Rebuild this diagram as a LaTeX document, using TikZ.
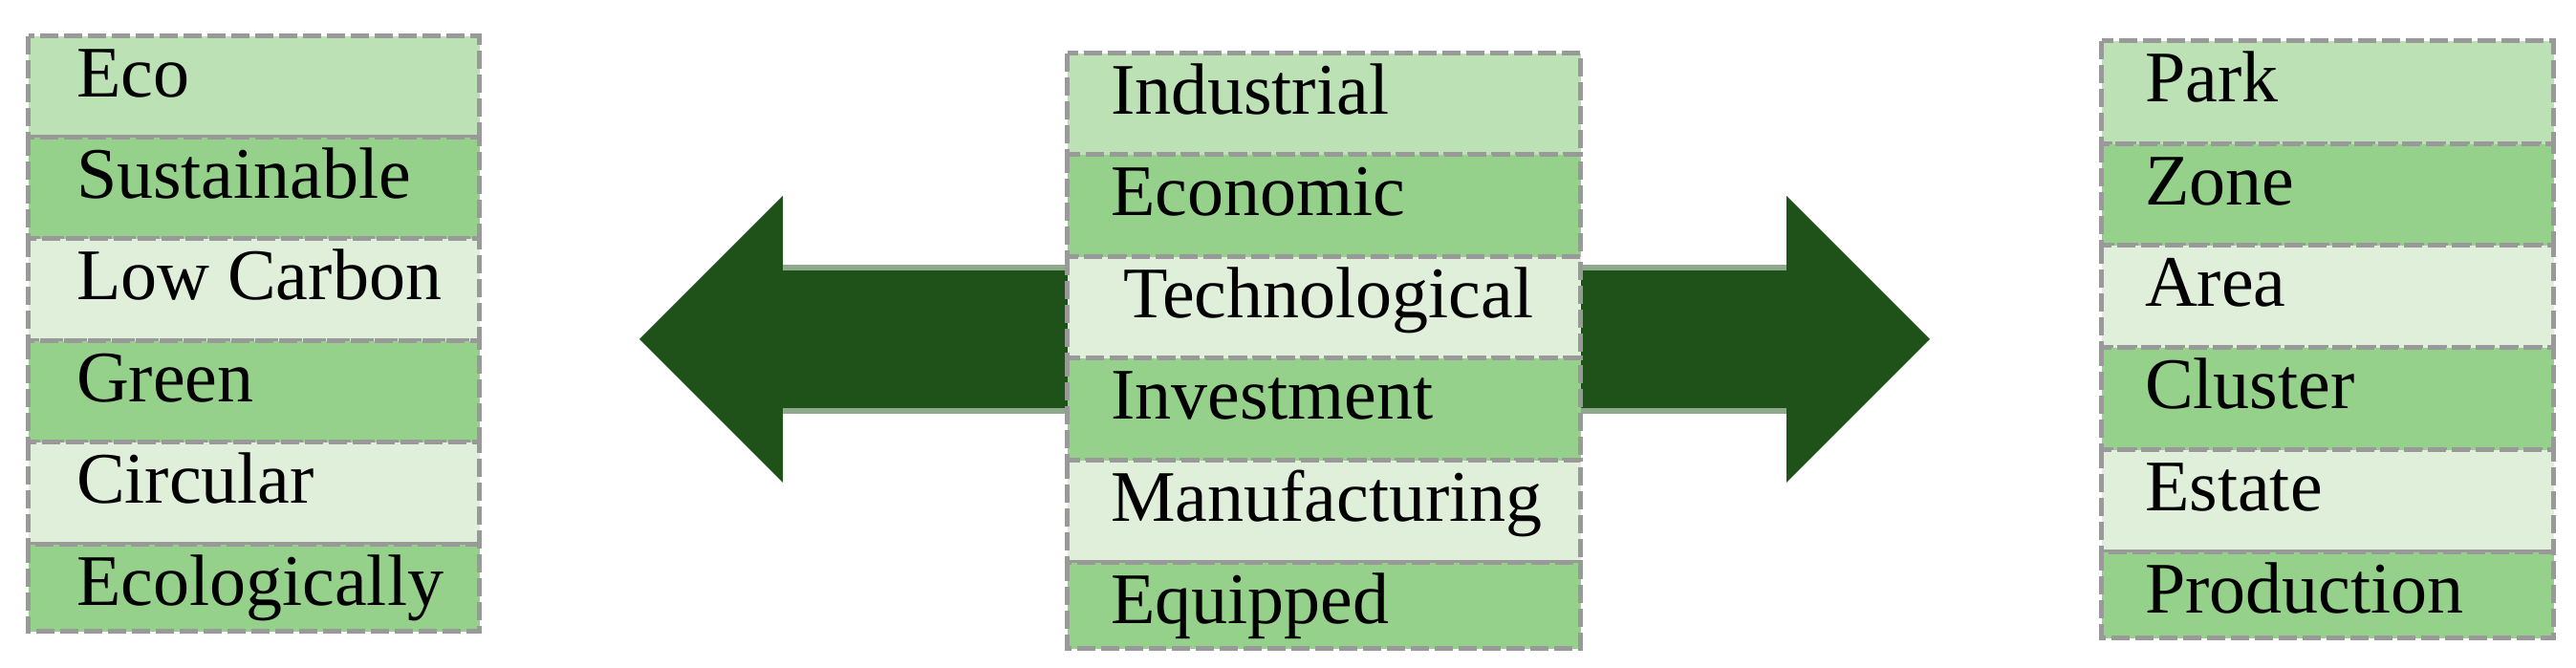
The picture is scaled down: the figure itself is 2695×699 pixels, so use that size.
\documentclass[tikz,border=0pt]{standalone}
\usepackage{fontspec}
\setmainfont{Liberation Serif}
\definecolor{rowA}{RGB}{187,225,180}
\definecolor{rowB}{RGB}{149,209,138}
\definecolor{rowC}{RGB}{223,239,218}
\definecolor{dashgray}{RGB}{153,153,153}
\definecolor{arrowgreen}{RGB}{31,82,25}
\definecolor{shaftedge}{RGB}{143,170,138}
\newcommand{\mycell}[8]{%
  \path[cellbox, fill=#6] (#2,#4) rectangle (#3,#5);
  \node[lbl] (#1) at (#8,{#4+64}) {#7};}
\begin{document}
\begin{tikzpicture}[x=0.1pt,y=-0.1pt,
  cellbox/.style={draw=dashgray, line width=0.5pt, dash pattern=on 1.9pt off 0.6pt},
  lbl/.style={anchor=base west, inner sep=0pt, font=\fontsize{7.6pt}{9pt}\selectfont}]
\useasboundingbox (0,0) rectangle (2695,699);
% double arrow
\coordinate (ltip) at (669,355);
\coordinate (rtip) at (2019,355);
\fill[arrowgreen] (ltip) -- (819,205) -- (819,283) -- (1869,283) -- (1869,205)
  -- (rtip) -- (1869,505) -- (1869,427) -- (819,427) -- (819,505) -- cycle;
\fill[shaftedge] (819,277) rectangle (1869,283);
\fill[shaftedge] (819,427) rectangle (1869,433);
% left column
\mycell{l1}{29.5}{501.5}{38}{144}{rowA}{Eco}{78}
\mycell{l2}{29.5}{501.5}{144}{250}{rowB}{Sustainable}{78}
\mycell{l3}{29.5}{501.5}{250}{357}{rowC}{Low Carbon}{78}
\mycell{l4}{29.5}{501.5}{357}{463}{rowB}{Green}{78}
\mycell{l5}{29.5}{501.5}{463}{570}{rowC}{Circular}{78}
\mycell{l6}{29.5}{501.5}{570}{661}{rowB}{Ecologically}{78}
% center column
\mycell{c1}{1116.5}{1653.5}{56}{162}{rowA}{Industrial}{1160}
\mycell{c2}{1116.5}{1653.5}{162}{269}{rowB}{Economic}{1160}
\mycell{c3}{1116.5}{1653.5}{269}{375}{rowC}{Technological}{1173}
\mycell{c4}{1116.5}{1653.5}{375}{482}{rowB}{Investment}{1160}
\mycell{c5}{1116.5}{1653.5}{482}{589}{rowC}{Manufacturing}{1160}
\mycell{c6}{1116.5}{1653.5}{589}{679}{rowB}{Equipped}{1160}
% right column
\mycell{r1}{2198.5}{2671.5}{43}{151}{rowA}{Park}{2242}
\mycell{r2}{2198.5}{2671.5}{151}{257}{rowB}{Zone}{2242}
\mycell{r3}{2198.5}{2671.5}{257}{364}{rowC}{Area}{2242}
\mycell{r4}{2198.5}{2671.5}{364}{471}{rowB}{Cluster}{2242}
\mycell{r5}{2198.5}{2671.5}{471}{578}{rowC}{Estate}{2242}
\mycell{r6}{2198.5}{2671.5}{578}{668}{rowB}{Production}{2242}
\end{tikzpicture}
\end{document}
